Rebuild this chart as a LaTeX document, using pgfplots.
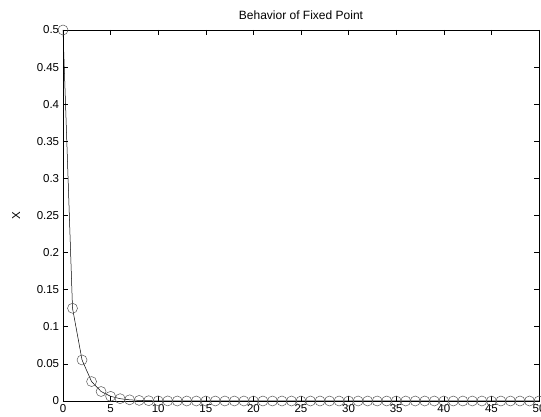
\documentclass[border=0pt]{standalone}
\usepackage{pgfplots}
\pgfplotsset{compat=1.18}
\usepackage{fontspec}
\setmainfont{Liberation Sans}
\begin{document}
\fontsize{11}{13}\selectfont
\begin{tikzpicture}
\begin{axis}[
  name=ax,
  scale only axis,
  width=476pt, height=371pt,
  xmin=0, xmax=50, ymin=0, ymax=0.5,
  xtick={0,5,...,50},
  ytick={0,0.05,0.1,0.15,0.2,0.25,0.3,0.35,0.4,0.45,0.5},
  yticklabels={0,0.05,0.1,0.15,0.2,0.25,0.3,0.35,0.4,0.45,0.5},
  tick align=inside,
  major tick length=5pt,
  tick style={black, line width=0.6pt},
  axis line style={line width=0.6pt},
  /pgf/number format/assume math mode=true,
  ticklabel style={font=\fontsize{11.5}{13}\selectfont},
  title={Behavior of Fixed Point},
  title style={font=\fontsize{12}{14}\selectfont, yshift=1pt},
  ylabel={X},
  ylabel style={font=\fontsize{11.5}{13}\selectfont, yshift=9pt},
  clip=false,
]
\addplot[black, line width=0.5pt, mark=o, mark size=5pt, mark options={black!65, line width=0.5pt}] coordinates {
(0,0.5) (1,0.125) (2,0.0553) (3,0.0262) (4,0.0128) (5,0.0063) (6,0.0031) (7,0.0016) (8,0.0008) (9,0.0004) (10,0.0002)
(11,0.0001) (12,0) (13,0) (14,0) (15,0) (16,0) (17,0) (18,0) (19,0) (20,0)
(21,0) (22,0) (23,0) (24,0) (25,0) (26,0) (27,0) (28,0) (29,0) (30,0)
(31,0) (32,0) (33,0) (34,0) (35,0) (36,0) (37,0) (38,0) (39,0) (40,0)
(41,0) (42,0) (43,0) (44,0) (45,0) (46,0) (47,0) (48,0) (49,0) (50,0)
};
\end{axis}
\pgfresetboundingbox
\useasboundingbox (ax.south west) ++(-63pt,-16pt) rectangle ++(541pt,417pt);
\end{tikzpicture}
\end{document}
